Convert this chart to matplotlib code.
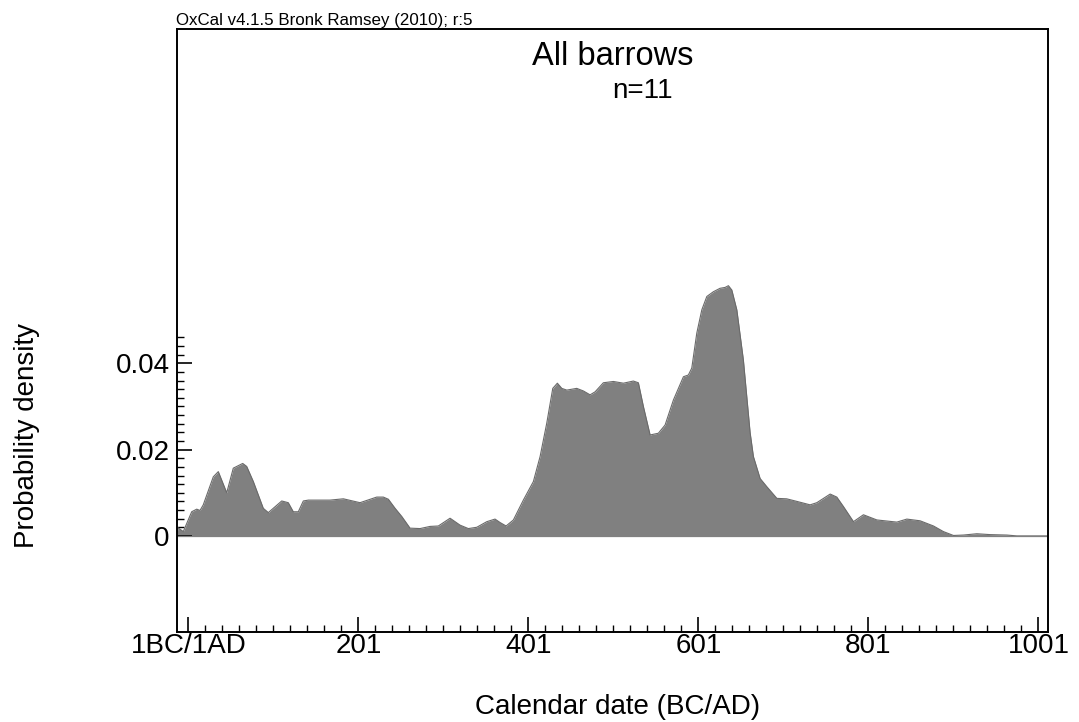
import matplotlib
matplotlib.use("Agg")
import matplotlib.pyplot as plt
from matplotlib.ticker import FixedLocator, NullFormatter

plt.rcParams['font.family'] = ['Liberation Sans', 'DejaVu Sans']

# Calendar years (BC/AD, 1 = 1BC/1AD boundary) and probability density
years = [-12.6, -11.1, -4.9, 5.0, 10.9, 14.8, 18.6, 30.4, 36.3, 46.2, 53.9, 65.0, 69.7, 77.5,
         89.2, 95.1, 110.9, 118.6, 124.5, 130.4, 136.3, 142.2, 167.7, 183.4, 203.0, 222.6,
         230.4, 236.3, 244.2, 252.1, 261.8, 273.6, 285.4, 295.1, 308.9, 320.6, 330.4, 340.3,
         352.1, 361.8, 367.7, 374.8, 383.4, 395.1, 406.9, 414.8, 422.6, 429.7, 435.1, 440.3,
         446.2, 457.9, 465.7, 473.6, 479.5, 489.2, 501.0, 512.8, 524.5, 530.4, 536.3, 544.2,
         553.9, 561.8, 571.6, 583.4, 589.2, 593.2, 599.1, 605.0, 610.9, 618.6, 626.5, 632.4,
         636.3, 640.3, 646.2, 653.9, 661.8, 665.7, 673.6, 681.5, 693.3, 704.8, 716.8, 732.4,
         740.3, 756.0, 763.8, 771.6, 783.4, 795.1, 810.9, 834.4, 846.2, 861.8, 877.5, 889.2,
         901.0, 912.8, 928.5, 944.1, 963.8, 975.6, 1012.0]
density = [0.0, 0.0019, 0.0010, 0.0056, 0.0062, 0.0059, 0.0072, 0.0137, 0.0149, 0.0100, 0.0157,
           0.0168, 0.0161, 0.0126, 0.0064, 0.0054, 0.0081, 0.0077, 0.0056, 0.0056, 0.0081,
           0.0083, 0.0083, 0.0086, 0.0077, 0.0090, 0.0090, 0.0085, 0.0064, 0.0045, 0.0018,
           0.0017, 0.0022, 0.0023, 0.0041, 0.0025, 0.0017, 0.0020, 0.0033, 0.0039, 0.0031,
           0.0023, 0.0037, 0.0083, 0.0126, 0.0184, 0.0261, 0.0342, 0.0354, 0.0342, 0.0338,
           0.0342, 0.0336, 0.0327, 0.0334, 0.0355, 0.0358, 0.0354, 0.0359, 0.0355, 0.0300,
           0.0234, 0.0238, 0.0257, 0.0315, 0.0369, 0.0373, 0.0389, 0.0470, 0.0524, 0.0555,
           0.0566, 0.0574, 0.0576, 0.0580, 0.0570, 0.0524, 0.0408, 0.0240, 0.0184, 0.0133,
           0.0114, 0.0087, 0.0086, 0.0080, 0.0072, 0.0077, 0.0097, 0.0090, 0.0068, 0.0033,
           0.0049, 0.0037, 0.0032, 0.0039, 0.0035, 0.0023, 0.0010, 0.0001, 0.0002, 0.0005,
           0.0003, 0.0002, 0.0, 0.0]

x_major = [1, 201, 401, 601, 801, 1001]
x_labels = ['1BC/1AD', '201', '401', '601', '801', '1001']
x_minor = list(range(21, 1001, 20))
y_major = [0, 0.02, 0.04]
y_labels = ['0', '0.02', '0.04']
y_minor = [i * 0.002 for i in range(1, 24)]

title = 'All barrows'
subtitle = 'n=11'
credit = 'OxCal v4.1.5 Bronk Ramsey (2010); r:5'
xlabel = 'Calendar date (BC/AD)'
ylabel = 'Probability density'

fig = plt.figure(figsize=(10.79, 7.22), dpi=100)
ax = fig.add_axes([0.1638, 0.1251, 0.9711 - 0.1638, 0.9598 - 0.1251])

ax.fill_between(years, density, 0, color='#808080', linewidth=0)
ax.plot(years, density, color='#6a6a6a', linewidth=0.8)
ax.axhline(0, color='#808080', linewidth=0.9)

ax.set_xlim(-12.6, 1012)
ax.set_ylim(-0.0222, 0.1175)

ax.set_xticks(x_major)
ax.set_xticklabels(x_labels)
ax.xaxis.set_minor_locator(FixedLocator([m for m in x_minor if m not in x_major]))
ax.set_yticks(y_major)
ax.set_yticklabels(y_labels)
ax.yaxis.set_minor_locator(FixedLocator([m for m in y_minor if abs(m - 0.02) > 1e-9 and abs(m - 0.04) > 1e-9]))
ax.yaxis.set_minor_formatter(NullFormatter())

ax.tick_params(axis='both', which='major', direction='in', length=10.5, width=1.2,
               labelsize=20, color='black')
ax.tick_params(axis='both', which='minor', direction='in', length=5.2, width=1.0, color='black')
ax.tick_params(axis='x', which='major', pad=1)
ax.tick_params(axis='y', which='major', pad=5)
ax.tick_params(top=False, right=False, which='both')

for s in ax.spines.values():
    s.set_linewidth(1.4)
    s.set_color('black')

fig.text(0.5677, 1 - 65 / 722, title, fontsize=23.5, ha='center', va='baseline')
fig.text(0.5955, 1 - 98 / 722, subtitle, fontsize=20, ha='center', va='baseline')
fig.text(176.5 / 1079, 1 - 25 / 722, credit, fontsize=12.2, ha='left', va='baseline')
fig.text(0.5728, 1 - 714 / 722, xlabel, fontsize=20, ha='center', va='baseline')
fig.text(0.025, 1 - 435 / 722, ylabel, fontsize=20, ha='center', va='center', rotation=90)

fig.savefig('out.png', dpi=100, facecolor='white')
